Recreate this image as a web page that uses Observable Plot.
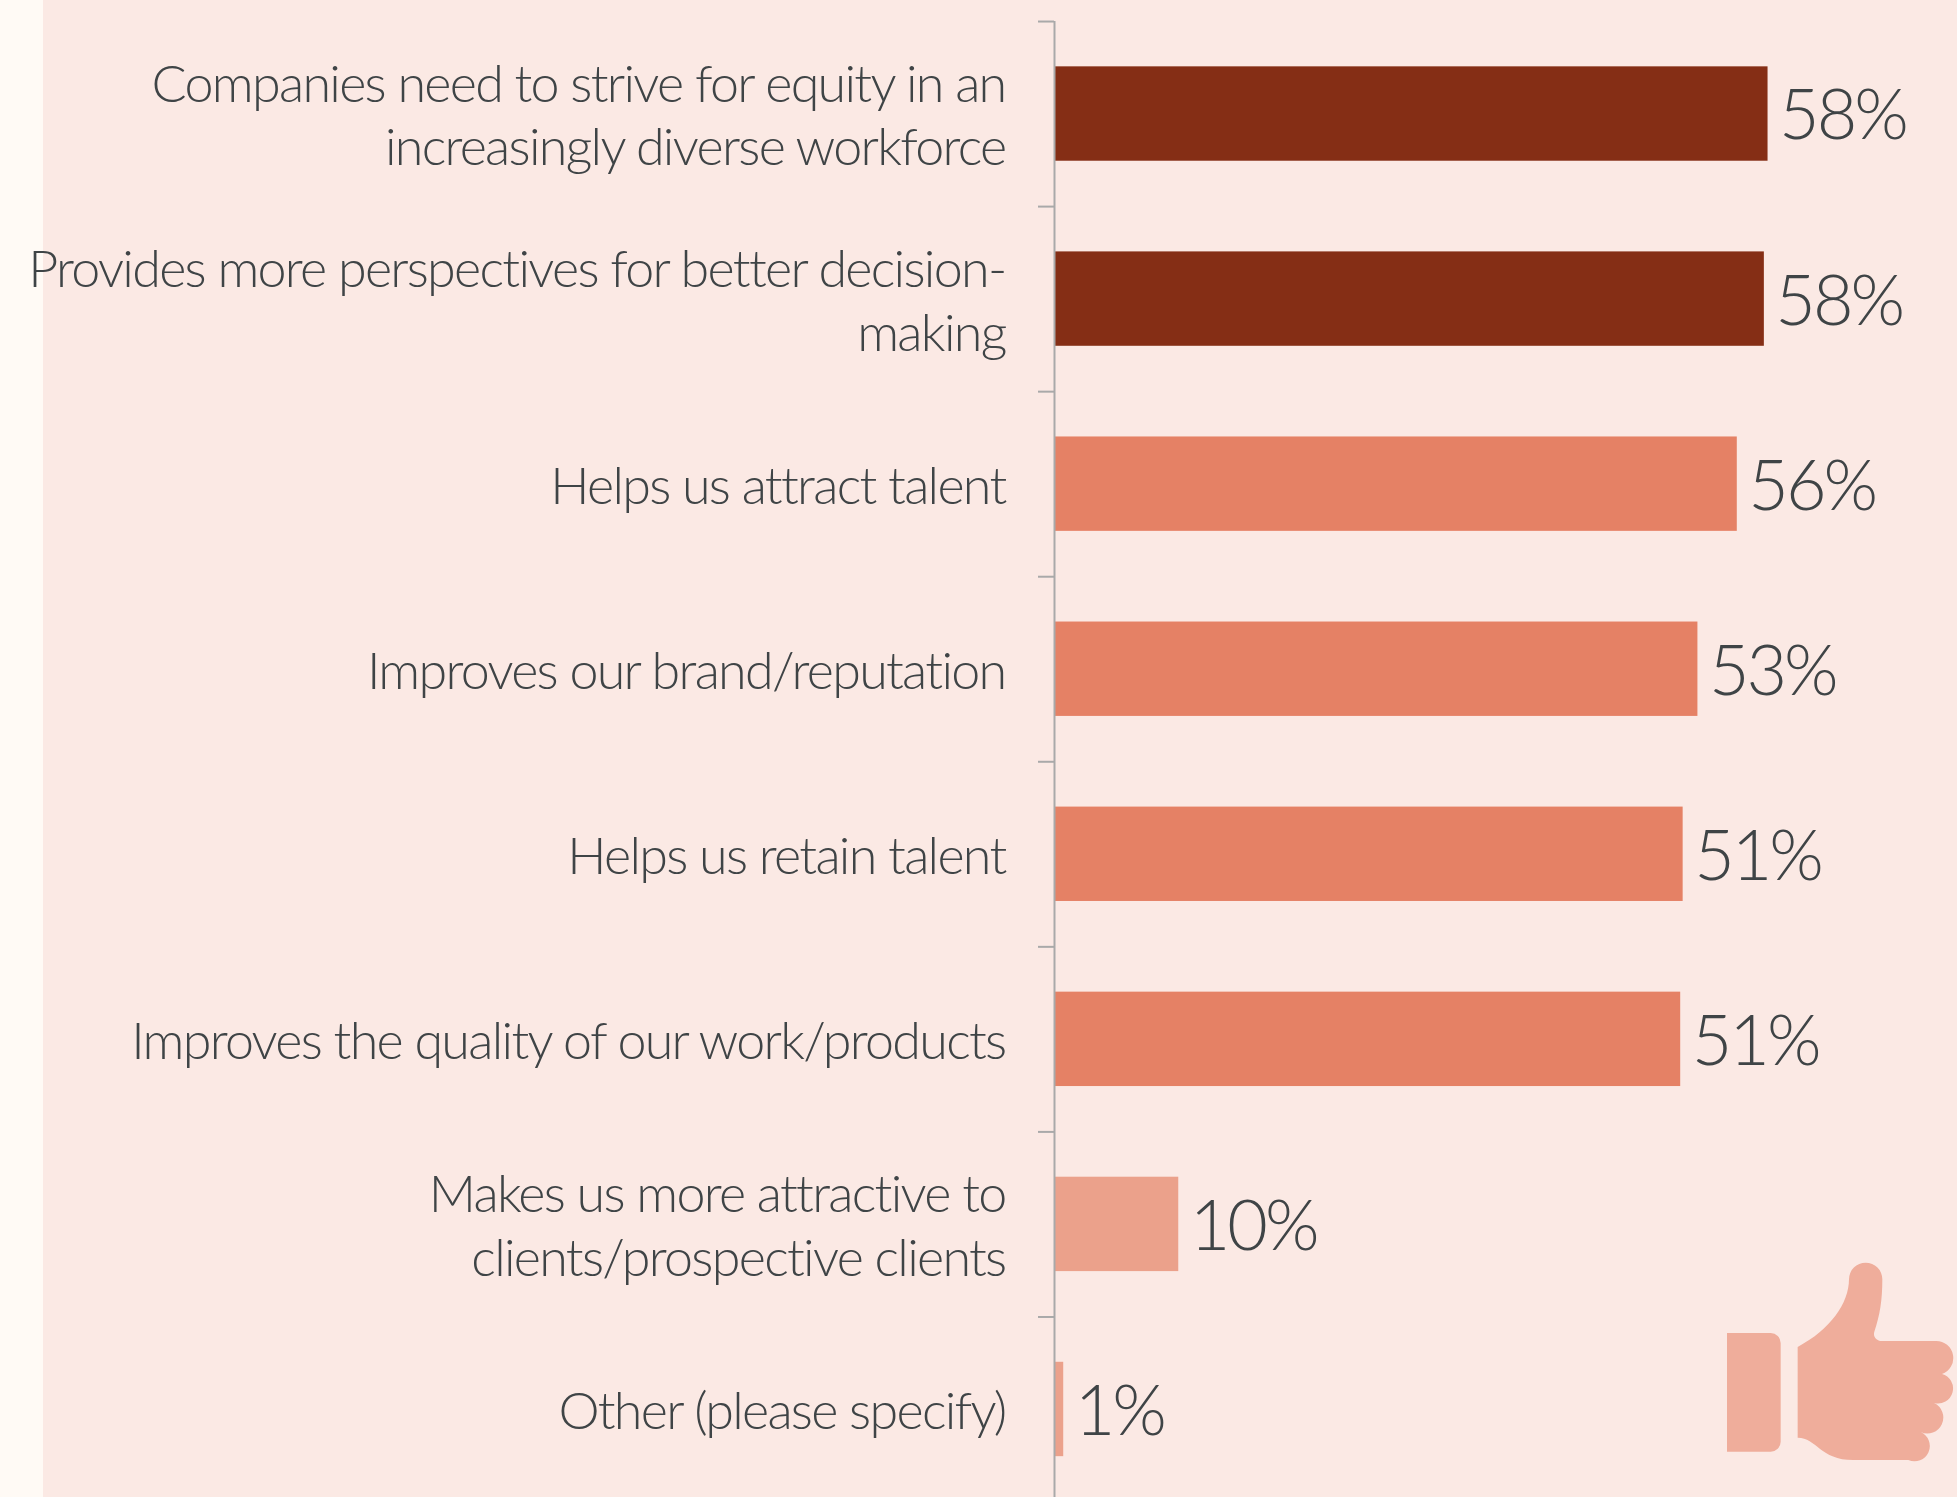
<!DOCTYPE html>
<html><head><meta charset="utf-8">
<script src="https://cdn.jsdelivr.net/npm/d3@7"></script>
<script src="https://cdn.jsdelivr.net/npm/@observablehq/plot@0.6"></script>
<style>
html,body{margin:0;padding:0;width:1957px;height:1497px;overflow:hidden;background:linear-gradient(to right,#fffaf5 43px,#fbe9e4 43px);}
#chart{position:absolute;left:0;top:0}
#chart svg{display:block;background:transparent;overflow:hidden}
#chart svg g[aria-label="y-axis tick label"] text{letter-spacing:-1.7px}
#chart svg g[aria-label="text"] text{letter-spacing:-3px}
#thumb{position:absolute;left:1680px;top:1240px}
</style></head><body>
<div id="chart"></div>
<svg id="thumb" width="277" height="257" viewBox="0 0 831 771"><g fill="#efad9b">
<path d="M141,279H272A30,30 0 0 1 302,309V605A30,30 0 0 1 272,635H141Z"/>
<path d="M353,321C450,270 507,190 507,118A50,50 0 0 1 607,118C607,180 600,225 583,275C578,290 590,303 605,303L768,303A51,51 0 0 1 786,402A45,45 0 0 1 762,489A44,44 0 0 1 722,576A44,44 0 0 1 685,660L520,660C420,660 410,593 353,593Z"/>
</g></svg>
<script>
const categories = [
  "Companies need to strive for equity in an\nincreasingly diverse workforce",
  "Provides more perspectives for better decision-\nmaking",
  "Helps us attract talent",
  "Improves our brand/reputation",
  "Helps us retain talent",
  "Improves the quality of our work/products",
  "Makes us more attractive to\nclients/prospective clients",
  "Other (please specify)"
];
const values = [58.0, 57.7, 55.5, 52.3, 51.1, 50.9, 10.1, 0.75];
const valueLabels = ["58%", "58%", "56%", "53%", "51%", "51%", "10%", "1%"];
const colors = ["#852e15", "#852e15", "#e58165", "#e58165", "#e58165", "#e58165", "#eba18b", "#eba18b"];
const rows = categories.map((category, i) => ({category, value: values[i], label: valueLabels[i], color: colors[i]}));
const ink = "#3f4446";
const font = "Lato";

const plot = Plot.plot({
  width: 1957, height: 1497,
  marginLeft: 1054, marginRight: 0, marginTop: 21, marginBottom: 0,
  style: {background: "transparent", fontFamily: font, overflow: "hidden"},
  x: {domain: [0, 73.4], axis: null},
  y: {domain: categories, range: [21, 1501.5], paddingInner: 0.49, paddingOuter: 0.245, round: false, axis: null},
  marks: [
    Plot.barX(rows, {y: "category", x: "value", fill: "color"}),
    Plot.ruleX([0], {stroke: "#a9a9a9", strokeWidth: 2}),
    Plot.ruleY(categories, {y: d => d, x1: -1.3, x2: 0, dy: -92.5, stroke: "#a9a9a9", strokeWidth: 2}),
    Plot.axisY({tickSize: 0, tickPadding: 49, dy: -1, fontSize: 52, lineHeight: 1.23, fontWeight: 300, fill: ink, label: null, textOverflow: null, lineWidth: Infinity}),
    Plot.text(rows, {y: "category", x: "value", text: "label", textAnchor: "start", dx: 11, dy: 3, fontSize: 70, fontWeight: 300, fill: ink})
  ]
});
document.getElementById("chart").appendChild(plot);
</script>
</body></html>
